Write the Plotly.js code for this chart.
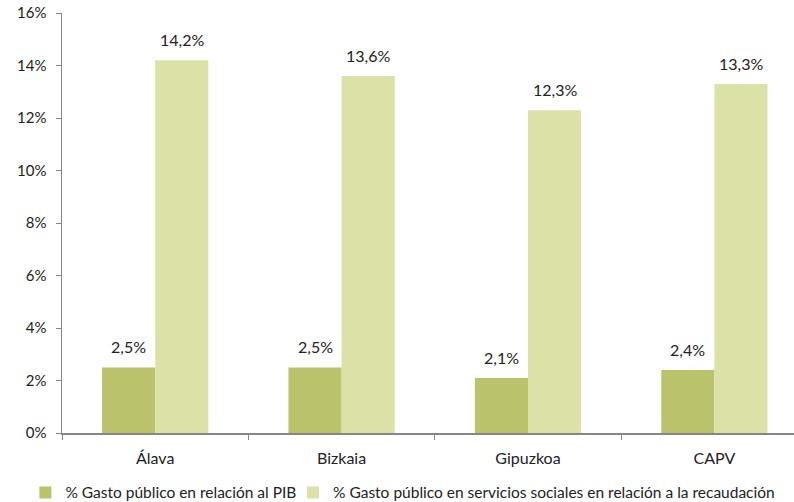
<!DOCTYPE html>
<html>
<head>
<meta charset="utf-8">
<script src="https://cdn.plot.ly/plotly-3.0.1.min.js"></script>
<style>html,body{margin:0;padding:0;background:#fff;}#chart{width:794px;height:502px;}</style>
</head>
<body>
<div id="chart"></div>
<script>
const categories = ['Álava', 'Bizkaia', 'Gipuzkoa', 'CAPV'];
const seriesNames = ['% Gasto público en relación al PIB', '% Gasto público en servicios sociales en relación a la recaudación'];
const pibValues = [2.5, 2.5, 2.1, 2.4];
const recaudacionValues = [14.2, 13.6, 12.3, 13.3];
const yTickValues = [0, 2, 4, 6, 8, 10, 12, 14, 16];

const FONT = 'Lato, "Liberation Sans", sans-serif';
const colors = ['#BAC26B', '#DCE2A7'];
const labelOffsetPx = 26.6;

function fmt(v) { return v.toFixed(1).replace('.', ',') + '%'; }

function barTrace(name, values, color, legendId) {
  return {
    type: 'bar', name: name, x: categories, y: values,
    marker: {color: color, line: {width: 0}},
    legend: legendId,
    hoverinfo: 'skip'
  };
}

const data = [
  barTrace(seriesNames[0], pibValues, colors[0], 'legend'),
  barTrace(seriesNames[1], recaudacionValues, colors[1], 'legend2')
];

const annotations = [];
[[pibValues, -labelOffsetPx], [recaudacionValues, labelOffsetPx]].forEach(([vals, dx]) => {
  vals.forEach((v, i) => {
    annotations.push({
      x: categories[i], y: v, xref: 'x', yref: 'y', text: fmt(v),
      showarrow: false, xshift: dx, yshift: 9, yanchor: 'bottom', xanchor: 'center',
      font: {family: FONT, size: 16, color: '#222'}
    });
  });
});

const legendBase = {orientation: 'h', xanchor: 'left', y: -0.102, yanchor: 'top',
  font: {family: FONT, size: 15.5, color: '#222'}, itemwidth: 30, bgcolor: 'rgba(0,0,0,0)'};

const layout = {
  width: 794, height: 502,
  margin: {l: 62, r: 0, t: 13, b: 69, autoexpand: false},
  paper_bgcolor: '#fff', plot_bgcolor: '#fff',
  font: {family: FONT, size: 15, color: '#222'},
  barmode: 'group', bargap: 0.43, bargroupgap: 0,
  showlegend: true,
  legend: Object.assign({}, legendBase, {x: -0.05}),
  legend2: Object.assign({}, legendBase, {x: 0.3156}),
  annotations: annotations,
  xaxis: {
    type: 'category', range: [-0.5, 3.427], automargin: false,
    showline: true, linecolor: '#868686', linewidth: 1.5,
    ticks: 'outside', tickson: 'boundaries', ticklen: 5, tickcolor: '#868686',
    ticklabelstandoff: 10,
    showgrid: false, zeroline: false, fixedrange: true,
    tickfont: {family: FONT, size: 16, color: '#222'}
  },
  yaxis: {
    range: [0, 16], tickvals: yTickValues, ticktext: yTickValues.map(v => v + '%'),
    automargin: false,
    showline: true, linecolor: '#868686', linewidth: 1.5,
    ticks: 'outside', ticklen: 5, tickcolor: '#868686',
    ticklabelstandoff: 6,
    showgrid: false, zeroline: false, fixedrange: true,
    tickfont: {family: FONT, size: 15, color: '#222'}
  }
};

Plotly.newPlot('chart', data, layout, {displayModeBar: false, staticPlot: true});
</script>
</body>
</html>
